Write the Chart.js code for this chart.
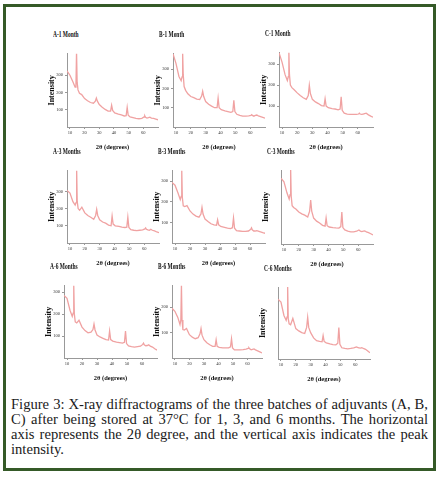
<!DOCTYPE html>
<html>
<head>
<meta charset="utf-8">
<script src="https://cdn.jsdelivr.net/npm/chart.js@4.4.1/dist/chart.umd.min.js"></script>
<style>
    html, body { margin: 0; padding: 0; background: #fff; }
    #fig { position: relative; width: 442px; height: 479px; background: #fff; overflow: hidden; }
    .frame { position: absolute; left: 3px; top: 4px; width: 433px; height: 467px; box-sizing: border-box; border: 3px solid #355a28; }
    .panel { position: absolute; }
    .ptitle { position: absolute; font-family: "Liberation Serif", serif; font-weight: bold; font-size: 8px; color: #111; white-space: nowrap; transform-origin: left center; transform: scaleX(0.68); }
    .caption { position: absolute; left: 11px; top: 397px; width: 417px; font-family: "Liberation Serif", serif; font-size: 14.6px; line-height: 15px; color: #1a1a1a; }
    .caption div { white-space: nowrap; text-align: justify; text-align-last: justify; }
    .caption div.last { text-align-last: left; }
</style>
</head>
<body>
<div id="fig">
    <div class="frame"></div>
    <div class="caption">
        <div>Figure 3: X-ray diffractograms of the three batches of adjuvants (A, B,</div>
        <div>C) after being stored at 37°C for 1, 3, and 6 months. The horizontal</div>
        <div>axis represents the 2θ degree, and the vertical axis indicates the peak</div>
        <div class="last">intensity.</div>
    </div>
</div>
<script>
// 2θ positions (degrees) shared by all diffractograms
const twoTheta = [8, 10, 12, 13.5, 14.1, 14.5, 14.9, 15.5, 16.5, 18, 20, 22, 24, 26, 27.3, 28, 28.7, 30, 32, 34,
    36, 37.7, 38.4, 39.1, 40.5, 43, 45, 47, 48.3, 49, 49.7, 51, 53, 55, 57, 59, 60.5, 61, 61.5, 62.5,
    63.5, 64.5, 65.5, 67, 68.5, 70];

// intensities
const a1 = [326, 300, 262, 232, 240, 440, 260, 215, 195, 188, 165, 152, 142, 138, 150, 168, 150, 130, 115, 102,
    92, 92, 126, 96, 82, 75, 70, 64, 66, 114, 68, 58, 54, 50, 48, 50, 58, 64, 56, 52,
    54, 57, 52, 50, 46, 42];
const b1 = [380, 330, 262, 240, 260, 385, 270, 210, 190, 172, 158, 152, 145, 142, 160, 185, 158, 132, 118, 108,
    100, 100, 150, 100, 90, 84, 80, 76, 80, 138, 80, 66, 60, 56, 56, 58, 60, 64, 60, 56,
    60, 62, 58, 54, 50, 46];
const c1 = [355, 310, 250, 222, 240, 365, 250, 200, 188, 178, 163, 150, 140, 132, 150, 200, 160, 132, 120, 112,
    102, 100, 135, 100, 92, 88, 86, 82, 86, 144, 80, 66, 62, 60, 60, 60, 62, 66, 62, 60,
    62, 64, 66, 58, 52, 47];
const a3 = [305, 290, 240, 220, 235, 430, 240, 200, 190, 208, 175, 160, 150, 138, 160, 195, 160, 135, 122, 115,
    104, 100, 157, 110, 100, 96, 92, 90, 92, 150, 90, 77, 74, 72, 74, 76, 82, 88, 80, 76,
    74, 80, 74, 70, 64, 60];
const b3 = [293, 280, 242, 210, 225, 355, 220, 180, 176, 181, 155, 140, 130, 125, 140, 172, 140, 116, 104, 93,
    88, 86, 112, 88, 80, 76, 72, 70, 74, 121, 72, 60, 58, 56, 56, 58, 66, 73, 64, 58,
    58, 60, 58, 54, 50, 47];
const c3 = [360, 340, 280, 246, 270, 410, 260, 210, 200, 191, 175, 165, 158, 148, 180, 240, 180, 142, 125, 115,
    102, 98, 142, 100, 93, 90, 88, 87, 95, 175, 90, 77, 70, 66, 66, 70, 77, 74, 70, 68,
    70, 72, 66, 62, 56, 49];
const a6 = [286, 272, 218, 190, 205, 335, 200, 165, 160, 172, 141, 125, 115, 118, 130, 155, 128, 105, 96, 90,
    84, 82, 123, 84, 77, 72, 70, 68, 72, 123, 66, 55, 52, 50, 52, 54, 62, 68, 60, 56,
    57, 60, 54, 50, 42, 36];
const b6 = [196, 184, 160, 132, 150, 290, 150, 112, 110, 116, 92, 82, 76, 80, 95, 116, 90, 72, 60, 52,
    46, 46, 72, 46, 42, 40, 40, 40, 44, 76, 40, 32, 32, 32, 33, 35, 38, 40, 36, 32,
    34, 36, 32, 28, 24, 20];
const c6 = [341, 324, 248, 220, 240, 420, 230, 200, 195, 231, 173, 160, 150, 145, 180, 237, 180, 150, 120, 104,
    100, 98, 133, 100, 92, 86, 82, 81, 90, 179, 84, 64, 60, 58, 60, 64, 68, 69, 66, 64,
    62, 64, 60, 55, 45, 35];

const panelTitles = ["A-1 Month", "B-1 Month", "C-1 Month",
    "A-3 Months", "B-3 Months", "C-3 Months",
    "A-6 Months", "B-6 Months", "C-6 Months"];
const panelSeries = [a1, b1, c1, a3, b3, c3, a6, b6, c6];
const intensityMax = [425, 380, 355, 420, 350, 405, 330, 285, 410];
const xTicks = [10, 20, 30, 40, 50, 60];

// plot area of each panel: left, top, right, bottom
const plotBoxes = [
    [67, 53, 158, 127], [173, 53, 265, 127], [279, 52, 373, 127],
    [67, 170, 159, 243], [172, 170, 265, 243], [281, 170, 373, 244],
    [64, 285, 157, 358], [172, 285, 262, 358], [278, 287, 370, 359]
];

const fig = document.getElementById("fig");
const serif = "'Liberation Serif', serif";

function makePanel(i) {
    const [L, T, R, B] = plotBoxes[i];
    const padL = 24, padT = 4, padR = 4, padB = 24;

    const wrap = document.createElement("div");
    wrap.className = "panel";
    wrap.style.left = (L - padL) + "px";
    wrap.style.top = (T - padT) + "px";
    const canvas = document.createElement("canvas");
    canvas.width = R - L + padL + padR;
    canvas.height = B - T + padT + padB;
    wrap.appendChild(canvas);
    fig.appendChild(wrap);

    const title = document.createElement("div");
    title.className = "ptitle";
    title.textContent = panelTitles[i];
    title.style.left = (L - 14) + "px";
    title.style.top = (T - 23) + "px";
    fig.appendChild(title);

    new Chart(canvas, {
        type: "line",
        data: {
            datasets: [{
                data: twoTheta.map((x, j) => ({ x: x, y: panelSeries[i][j] })),
                borderColor: "#f0a2a2",
                borderWidth: 1.3,
                pointRadius: 0,
                tension: 0,
                fill: false
            }]
        },
        options: {
            responsive: false,
            animation: false,
            events: [],
            layout: { autoPadding: false, padding: { top: padT, right: padR, left: 0, bottom: 0 } },
            plugins: { legend: { display: false }, tooltip: { enabled: false } },
            scales: {
                x: {
                    type: "linear",
                    min: 8,
                    max: 70,
                    afterFit: s => { s.height = padB; },
                    afterBuildTicks: s => { s.ticks = xTicks.map(v => ({ value: v })); },
                    ticks: { font: { family: serif, size: 4.5 }, color: "#333", padding: 1, maxRotation: 0, autoSkip: false },
                    grid: { display: true, drawOnChartArea: false, tickLength: 2, color: "#999" },
                    border: { color: "#999" },
                    title: {
                        display: true,
                        text: "2θ (degrees)",
                        font: { family: serif, size: 6.5, weight: "bold" },
                        color: "#111",
                        padding: { top: 0, bottom: 0 }
                    }
                },
                y: {
                    min: 0,
                    max: intensityMax[i],
                    afterFit: s => { s.width = padL; },
                    afterBuildTicks: s => { s.ticks = s.ticks.filter(t => t.value > 0 && t.value % 100 === 0); },
                    ticks: { stepSize: 100, font: { family: serif, size: 4.5 }, color: "#333", padding: 2 },
                    grid: { display: true, drawOnChartArea: false, tickLength: 2, color: "#999" },
                    border: { color: "#999" },
                    title: {
                        display: true,
                        text: "Intensity",
                        font: { family: serif, size: 8, weight: "bold" },
                        color: "#111",
                        padding: { top: 4, bottom: 0 }
                    }
                }
            }
        }
    });
}

for (let i = 0; i < panelSeries.length; i++) makePanel(i);
</script>
</body>
</html>
